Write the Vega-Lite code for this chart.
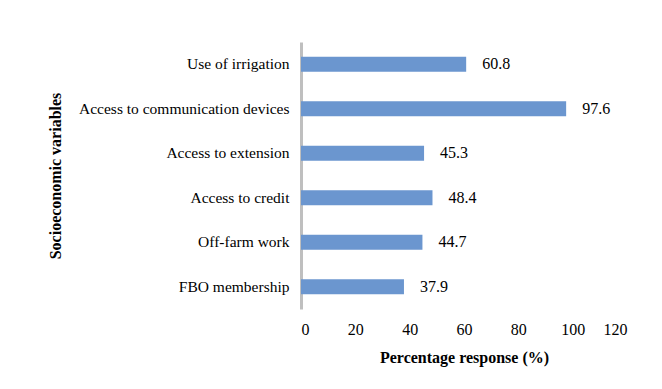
{
  "$schema": "https://vega.github.io/schema/vega-lite/v6.json",
  "width": 326,
  "height": 267,
  "autosize": {"type": "none"},
  "padding": {"left": 301, "top": 42, "right": 35, "bottom": 80},
  "background": "white",
  "config": {
    "view": {"stroke": null},
    "font": "Liberation Serif",
    "axis": {"labelFont": "Liberation Serif", "titleFont": "Liberation Serif", "labelColor": "#000000", "titleColor": "#000000"}
  },
  "data": {
    "values": [
      {"variable": "Use of irrigation", "pct": 60.8},
      {"variable": "Access to communication devices", "pct": 97.6},
      {"variable": "Access to extension", "pct": 45.3},
      {"variable": "Access to credit", "pct": 48.4},
      {"variable": "Off-farm work", "pct": 44.7},
      {"variable": "FBO membership", "pct": 37.9}
    ]
  },
  "encoding": {
    "y": {
      "field": "variable",
      "type": "nominal",
      "sort": null,
      "scale": {"paddingInner": 0.66, "paddingOuter": 0.33},
      "axis": {
        "title": "Socioeconomic variables",
        "titleFontSize": 16,
        "titleFontWeight": "bold",
        "titlePadding": 38,
        "labelFontSize": 15.5,
        "labelPadding": 12,
        "labelLimit": 400,
        "ticks": false,
        "domainColor": "#bfbfbf",
        "domainWidth": 3
      }
    },
    "x": {
      "field": "pct",
      "type": "quantitative",
      "scale": {"domain": [0, 120]},
      "axis": {
        "title": "Percentage response (%)",
        "titleFontSize": 16,
        "titleFontWeight": "bold",
        "titlePadding": 12,
        "labelFontSize": 16,
        "labelPadding": 12,
        "values": [0, 20, 40, 60, 80, 100, 120],
        "ticks": false,
        "domain": false,
        "grid": false
      }
    }
  },
  "layer": [
    {"mark": {"type": "bar", "color": "#6b96cf"}},
    {
      "mark": {"type": "text", "align": "left", "dx": 16, "fontSize": 16, "font": "Liberation Serif", "color": "#000000"},
      "encoding": {"text": {"field": "pct", "type": "quantitative", "format": ".1f"}}
    }
  ]
}
